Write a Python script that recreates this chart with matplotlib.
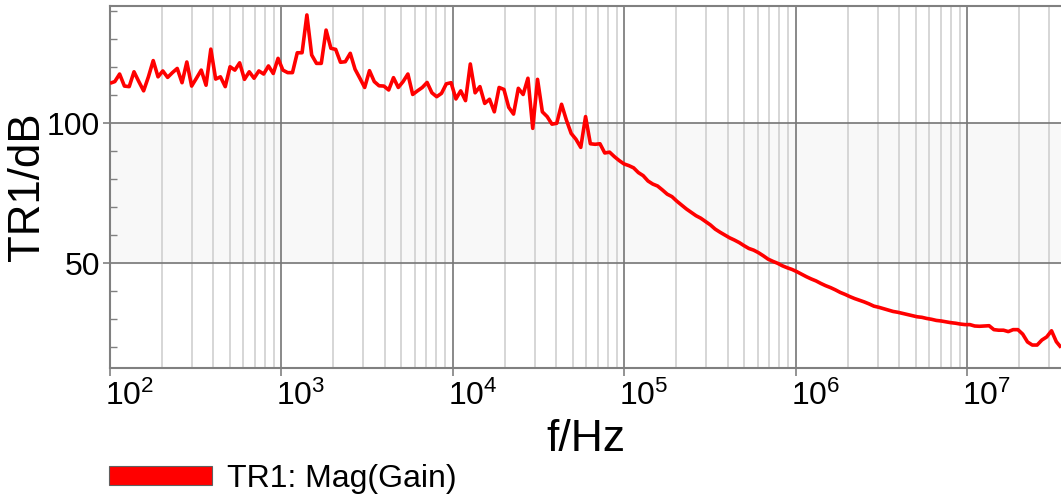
import matplotlib
matplotlib.use("Agg")
import matplotlib.pyplot as plt
import matplotlib.transforms as mtransforms
from matplotlib.patches import Patch
from matplotlib.ticker import LogLocator, MultipleLocator, NullFormatter
import numpy as np

plt.rcParams['font.family'] = ['Liberation Sans', 'DejaVu Sans']
plt.rcParams['mathtext.default'] = 'regular'

# Sweep points, log10 of frequency in Hz
log_freq = [
    2.000, 2.028, 2.056, 2.084, 2.112, 2.140, 2.168, 2.196, 2.224, 2.252,
    2.280, 2.308, 2.336, 2.364, 2.392, 2.420, 2.448, 2.476, 2.504, 2.532,
    2.560, 2.588, 2.616, 2.644, 2.672, 2.700, 2.728, 2.756, 2.784, 2.812,
    2.840, 2.868, 2.896, 2.924, 2.952, 2.980, 3.008, 3.036, 3.064, 3.092,
    3.120, 3.148, 3.176, 3.204, 3.232, 3.260, 3.288, 3.316, 3.344, 3.372,
    3.401, 3.429, 3.457, 3.485, 3.513, 3.541, 3.569, 3.597, 3.625, 3.653,
    3.681, 3.709, 3.737, 3.765, 3.793, 3.821, 3.849, 3.877, 3.905, 3.933,
    3.961, 3.989, 4.017, 4.045, 4.073, 4.101, 4.129, 4.157, 4.185, 4.213,
    4.241, 4.269, 4.297, 4.325, 4.353, 4.381, 4.409, 4.437, 4.465, 4.493,
    4.521, 4.549, 4.577, 4.605, 4.633, 4.661, 4.689, 4.717, 4.745, 4.773,
    4.801, 4.829, 4.857, 4.885, 4.913, 4.941, 4.969, 4.997, 5.025, 5.053,
    5.081, 5.109, 5.137, 5.165, 5.193, 5.221, 5.249, 5.277, 5.305, 5.333,
    5.361, 5.389, 5.417, 5.445, 5.473, 5.501, 5.529, 5.557, 5.585, 5.613,
    5.641, 5.669, 5.697, 5.725, 5.753, 5.781, 5.809, 5.837, 5.865, 5.893,
    5.921, 5.949, 5.977, 6.005, 6.033, 6.061, 6.089, 6.117, 6.145, 6.173,
    6.202, 6.230, 6.258, 6.286, 6.314, 6.342, 6.370, 6.398, 6.426, 6.454,
    6.482, 6.510, 6.538, 6.566, 6.594, 6.622, 6.650, 6.678, 6.706, 6.734,
    6.762, 6.790, 6.818, 6.846, 6.874, 6.902, 6.930, 6.958, 6.986, 7.014,
    7.042, 7.070, 7.098, 7.126, 7.154, 7.182, 7.210, 7.238, 7.266, 7.294,
    7.322, 7.350, 7.378, 7.406, 7.434, 7.462, 7.490, 7.518, 7.546,
]

# TR1 magnitude in dB at each sweep point
gain_db = [
    114.2, 114.8, 117.5, 113.2, 113.0, 118.3, 114.8, 111.5, 116.5, 122.3,
    116.5, 118.6, 116.3, 118.0, 119.5, 114.4, 121.8, 113.2, 116.0, 118.9,
    113.5, 126.4, 115.7, 116.5, 113.0, 120.1, 118.9, 121.5, 115.6, 118.3,
    116.0, 118.6, 117.5, 120.4, 117.7, 123.1, 118.9, 118.0, 118.0, 125.1,
    125.1, 138.6, 124.3, 121.3, 121.3, 133.2, 126.7, 126.3, 121.7, 121.9,
    124.9, 119.2, 116.0, 112.7, 118.7, 114.8, 113.3, 113.2, 111.8, 116.2,
    112.7, 114.8, 117.5, 110.2, 111.5, 112.7, 114.5, 110.8, 109.4, 110.6,
    114.0, 114.4, 108.6, 111.5, 108.0, 121.1, 110.8, 113.0, 107.0, 108.5,
    104.0, 112.7, 112.0, 105.6, 103.2, 112.4, 110.2, 116.0, 98.1, 115.6,
    104.0, 102.3, 99.6, 99.9, 106.7, 101.1, 96.3, 94.2, 91.3, 102.3,
    92.6, 92.4, 92.6, 89.3, 89.6, 88.0, 86.6, 85.4, 84.8, 84.0,
    82.3, 81.2, 79.3, 78.2, 77.5, 76.1, 74.6, 73.7, 72.1, 70.7,
    69.3, 68.1, 66.9, 66.0, 64.8, 63.6, 62.1, 61.0, 60.0, 59.0,
    58.2, 57.3, 56.2, 55.2, 54.6, 53.7, 52.6, 51.4, 50.6, 49.9,
    49.0, 48.3, 47.7, 46.9, 46.0, 45.1, 44.3, 43.6, 42.7, 41.9,
    41.2, 40.4, 39.5, 38.8, 38.0, 37.3, 36.7, 36.1, 35.4, 34.6,
    34.2, 33.7, 33.2, 32.7, 32.4, 32.0, 31.6, 31.2, 30.8, 30.6,
    30.2, 29.9, 29.5, 29.3, 29.0, 28.7, 28.5, 28.2, 28.0, 28.0,
    27.5, 27.4, 27.5, 27.6, 26.2, 26.0, 26.0, 25.5, 26.2, 26.2,
    24.6, 21.8, 20.7, 20.7, 22.5, 23.6, 25.8, 21.9, 19.8,
]

band_db = [50, 100]
trace_label = 'TR1: Mag(Gain)'

freq = 10.0 ** np.array(log_freq)

fig = plt.figure(figsize=(10.61, 4.97), dpi=100)
ax = fig.add_axes([110 / 1061, 1 - 368 / 497, 951 / 1061, 362 / 497])

# light band between the two labelled levels
ax.axhspan(band_db[0], band_db[1], color='#f8f8f8', zorder=0)

ax.plot(freq, gain_db, color='#ff0000', lw=2.6, zorder=3,
        solid_joinstyle='round', solid_capstyle='butt')

ax.set_xscale('log')
ax.set_xlim(100, 3.51e7)
ax.set_ylim(12.5, 141.8)

ax.xaxis.set_major_locator(LogLocator(base=10))
ax.xaxis.set_minor_locator(LogLocator(base=10, subs=np.arange(2, 10)))
ax.xaxis.set_minor_formatter(NullFormatter())
ax.yaxis.set_major_locator(MultipleLocator(50))
ax.yaxis.set_minor_locator(MultipleLocator(10))

ax.grid(True, which='major', color='#767676', lw=1.2, zorder=1)
ax.grid(True, which='minor', axis='x', color='#d6d6d6', lw=1.4, zorder=1)
ax.grid(False, which='minor', axis='y')
ax.set_axisbelow(True)

for side in ('left', 'bottom', 'top'):
    ax.spines[side].set_color('#808080')
    ax.spines[side].set_linewidth(1.5)
ax.spines['right'].set_visible(False)

ax.tick_params(axis='x', which='major', direction='out', length=6, width=1.2,
               color='#808080', labelsize=23, pad=3)
ax.tick_params(axis='x', which='minor', length=0)
ax.tick_params(axis='y', which='major', direction='out', length=5, width=1.2,
               color='#808080', labelsize=23, pad=2)
ax.tick_params(axis='y', which='minor', direction='in', length=5, width=1.0,
               color='#808080')

# decade labels start just left of their tick
shift = mtransforms.ScaledTranslation(-5 / 100, 0, fig.dpi_scale_trans)
for lbl in ax.get_xticklabels():
    lbl.set_horizontalalignment('left')
    lbl.set_transform(lbl.get_transform() + shift)

ax.set_xlabel('f/Hz', fontsize=32, labelpad=5)
ax.set_ylabel('TR1/dB', fontsize=31.5, labelpad=-1)

handle = Patch(facecolor='#ff0000', edgecolor='#606060', linewidth=0.8)
fig.legend([handle], [trace_label], loc='center left',
           bbox_to_anchor=(109 / 1061, 1 - 479 / 497), frameon=False,
           fontsize=23, handlelength=3.23, handleheight=0.53,
           handletextpad=0.47, borderpad=0, borderaxespad=0)

fig.savefig('out.png', dpi=100)
